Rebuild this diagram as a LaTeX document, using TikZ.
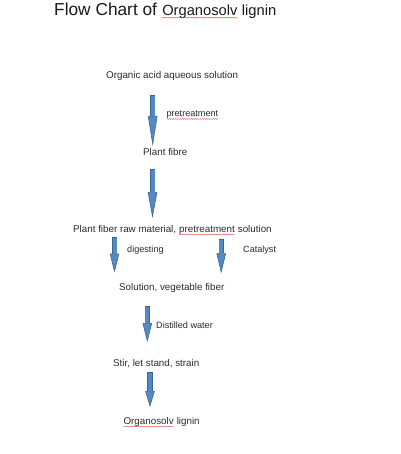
\documentclass[tikz,border=0pt]{standalone}
\usepackage{fontspec}
\setmainfont{Liberation Sans}
\usetikzlibrary{arrows.meta,decorations.pathmorphing}
\definecolor{ink}{HTML}{2A2A2A}
\definecolor{arrowfill}{HTML}{5489C4}
\definecolor{arrowedge}{HTML}{3A6596}
\definecolor{spellred}{HTML}{D84848}
\newcommand\spell[1]{\tikz[baseline=(w.base)]{\node[inner sep=0pt,anchor=base] (w) at (0,0) {#1};
  \draw[spellred,line width=0.35pt,decorate,decoration={snake,amplitude=0.5pt,segment length=2.2pt}]
    ([yshift=-2pt]w.base west) -- ([yshift=-2pt]w.base east);}}
\tikzset{
  step text/.style={anchor=base west,inner sep=0pt,text=ink,font=\fontsize{9.8}{12}\selectfont},
  side text/.style={anchor=base west,inner sep=0pt,text=ink,font=\fontsize{9.1}{11}\selectfont},
  flow/.style={arrowedge,line width=5.2pt,
    -{Triangle[length=#1pt,width=9.4pt,line width=0.6pt,fill=arrowfill]},
    postaction={draw=arrowfill,line width=4pt,-,shorten >=#1pt-0.4pt,shorten <=0.6pt}}
}
\begin{document}
\begin{tikzpicture}[x=1pt,y=-1pt]
  \useasboundingbox (0,0) rectangle (400,454);
  \node[anchor=base west,inner sep=0pt,text=black!90] (title) at (54,15.7)
    {\fontsize{17.3}{20}\selectfont Flow Chart of \fontsize{14.7}{17}\selectfont\spell{Organosolv} lignin};
  % steps
  \node[step text] (acid) at (106,78.5) {Organic acid aqueous solution};
  \node[step text] (fibre) at (143,155.5) {Plant fibre};
  \node[step text] (mix) at (73,232.5) {Plant fiber raw material, \spell{pretreatment} solution};
  \node[step text] (sol) at (119,290.5) {Solution, vegetable fiber};
  \node[step text] (stir) at (113,366.5) {Stir, let stand, strain};
  \node[step text] (lignin) at (123,424.5) {\spell{Organosolv} lignin};
  % side notes
  \node[side text] (pretreat) at (166,117) {\spell{pretreatment}};
  \node[side text] (digest) at (127,252.5) {digesting};
  \node[side text] (catalyst) at (243,252.5) {Catalyst};
  \node[side text] (water) at (156,328.5) {Distilled water};
  % block arrows
  \foreach \n/\x/\a/\b/\h in {1/152.7/95/146/30, 2/152.5/169/218/26, 3/114.5/237/272.5/19,
      4/221.2/239/273.3/20, 5/147.3/306/342/19, 6/150/372/407/16}{
    \coordinate (top\n) at (\x,\a);
    \coordinate (tip\n) at (\x,\b);
    \draw[flow=\h] (top\n) -- (tip\n);
  }
\end{tikzpicture}
\end{document}
